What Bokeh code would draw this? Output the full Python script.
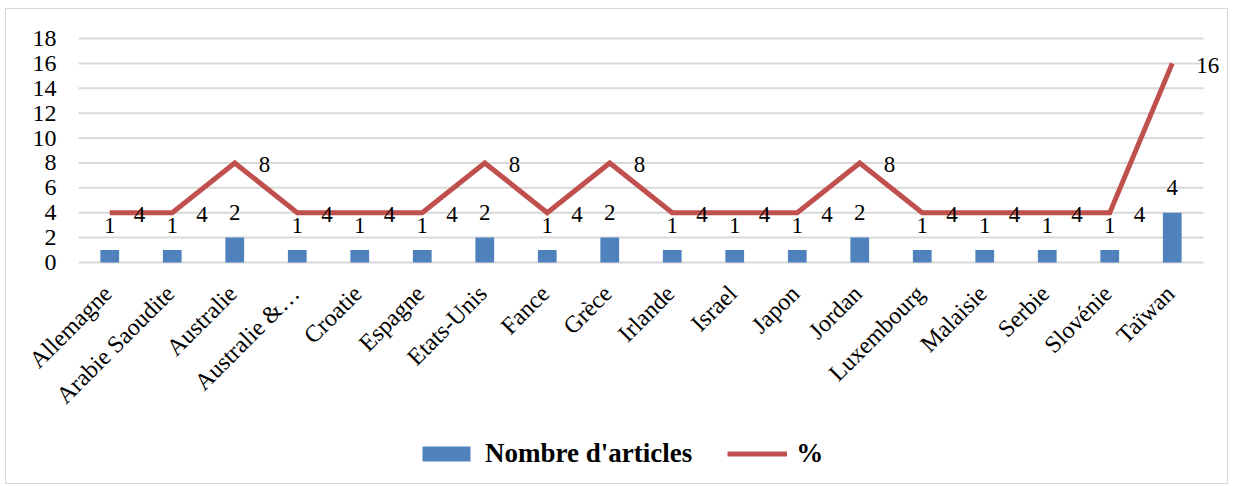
import math
from bokeh.plotting import figure
from bokeh.models import ColumnDataSource, Range1d, Legend, LegendItem
from bokeh.core.properties import value
from bokeh.embed import file_html
from bokeh.resources import INLINE

countries = ["Allemagne", "Arabie Saoudite", "Australie", "Australie &…", "Croatie",
             "Espagne", "Etats-Unis", "Fance", "Grèce", "Irlande", "Israel", "Japon",
             "Jordan", "Luxembourg", "Malaisie", "Serbie", "Slovénie", "Taïwan"]
articles = [1, 1, 2, 1, 1, 1, 2, 1, 2, 1, 1, 1, 2, 1, 1, 1, 1, 4]
percent = [4, 4, 8, 4, 4, 4, 8, 4, 8, 4, 4, 4, 8, 4, 4, 4, 4, 16]
y_ticks = [0, 2, 4, 6, 8, 10, 12, 14, 16, 18]
y_tick_labels = [str(t) for t in y_ticks]

FONT = "Liberation Serif"
BLUE = "#4F81BD"
RED = "#C0504D"
GRID = "#D9D9D9"

n = len(countries)
idx = list(range(n))
src = ColumnDataSource(dict(
    x=idx, n=articles, p=percent, zero=[0] * n, name=countries,
    nl=[str(v) for v in articles], pl=[str(v) for v in percent],
))
ysrc = ColumnDataSource(dict(y=y_ticks, lbl=y_tick_labels,
                             x0=[-0.5] * len(y_ticks), x1=[n - 0.5] * len(y_ticks)))

# layout (pixels, relative to the chart box which is offset by OFF_X / OFF_Y)
OFF_X, OFF_Y = 5, 8
W, H = 1223, 476
LEFT, RIGHT, TOP, BOTTOM = 4, 2, 6, 4
cat_px = 62.5
plot_left_px = 77 - OFF_X          # where the category span starts
plot_top_px = 37 - OFF_Y           # where the value 18 sits
plot_h = 224.0
frame_w = W - LEFT - RIGHT
frame_h = H - TOP - BOTTOM
x_start = -0.5 - (plot_left_px - LEFT) / cat_px
x_end = x_start + frame_w / cat_px
px_per_unit = plot_h / 18
y_max = 18 + (plot_top_px - TOP) / px_per_unit
y_min = y_max - frame_h / px_per_unit

p = figure(x_range=Range1d(x_start, x_end), y_range=Range1d(y_min, y_max),
           width=W, height=H,
           min_border_left=LEFT, min_border_right=RIGHT,
           min_border_top=TOP, min_border_bottom=BOTTOM,
           output_backend="svg", toolbar_location=None)
p.styles = {"border": "1px solid #D9D9D9",
            "margin-left": f"{OFF_X}px", "margin-top": f"{OFF_Y}px"}
p.outline_line_color = None
p.xgrid.grid_line_color = None
p.ygrid.grid_line_color = None
p.xaxis.visible = False
p.yaxis.visible = False

# horizontal gridlines over the category span, with their tick labels
p.segment(x0="x0", x1="x1", y0="y", y1="y", source=ysrc, line_color=GRID, line_width=2)
p.text(x="x0", y="y", text="lbl", source=ysrc, text_align="right", text_baseline="middle",
       x_offset=-22, text_font=value(FONT), text_font_size="24px", text_color="#000000")

bars = p.vbar(x="x", top="n", width=0.3, source=src, fill_color=BLUE, line_color=None)
line = p.line(x="x", y="p", source=src, line_color=RED, line_width=5, line_join="miter")

p.text(x="x", y="n", text="nl", source=src, text_align="center",
       text_baseline="middle", y_offset=-25, text_font=value(FONT),
       text_font_size="23px", text_color="#000000")
p.text(x="x", y="p", text="pl", source=src, text_align="left",
       text_baseline="middle", x_offset=24, y_offset=2, text_font=value(FONT),
       text_font_size="23px", text_color="#000000")

# category labels, rotated 45 degrees, ending just below each category
p.text(x="x", y="zero", text="name", source=src, angle=math.pi / 4,
       text_align="right", text_baseline="middle", x_offset=-2, y_offset=27,
       text_font=value(FONT), text_font_size="24px", text_color="#000000")

legend = Legend(items=[LegendItem(label="Nombre d'articles", renderers=[bars]),
                       LegendItem(label="%", renderers=[line])],
                orientation="horizontal", location=(411 - OFF_X, 12),
                label_text_font=FONT, label_text_font_style="bold",
                label_text_font_size="27px", label_text_color="#000000",
                glyph_width=60, glyph_height=19, spacing=35, label_standoff=9,
                border_line_alpha=0, background_fill_alpha=0, padding=0, margin=0)
p.add_layout(legend, "center")

open("out.html", "w").write(file_html(p, INLINE))
